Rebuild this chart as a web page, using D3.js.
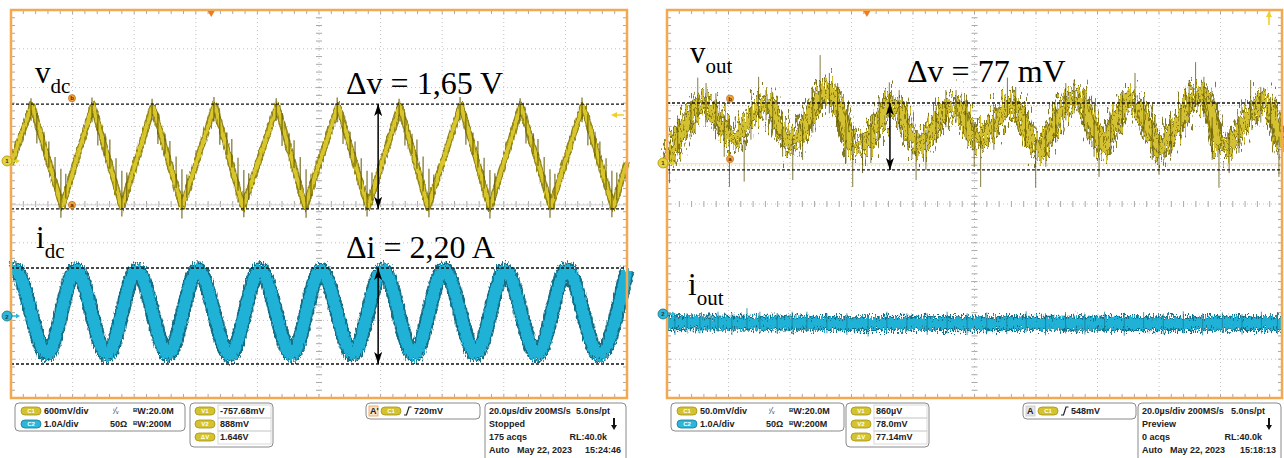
<!DOCTYPE html>
<html>
<head>
<meta charset="utf-8">
<script src="https://cdn.jsdelivr.net/npm/d3@7/dist/d3.min.js"></script>
<style>
html,body{margin:0;padding:0;background:#fff;}
svg{display:block;}
.grid{stroke:#c4c4c4;stroke-width:1;stroke-dasharray:1,3;fill:none;}
.tick{stroke:#a8a8a8;stroke-width:1;}
.info{font-family:"Liberation Sans Narrow","Arial Narrow","Liberation Sans",sans-serif;font-weight:bold;font-size:9px;fill:#222;}
.pilltxt{font-family:"Liberation Sans","Arial",sans-serif;font-weight:bold;font-size:6px;}
.lbl{font-family:"Liberation Serif","Times New Roman",serif;fill:#000;}
</style>
</head>
<body>
<svg id="chart" width="1284" height="458"></svg>
<script>
// ================= DATA =================
const timeDomain = [0, 200];            // µs  (20.0 µs/div, 10 div)
const voltsPerDiv = [0.6, 50];          // C1: 600 mV/div (left, in V) | 50.0 mV/div (right, in mV)
const ampsPerDiv  = [1.0, 1.0];         // C2: 1.0 A/div
const ch1Offset = [1.11, 1.057];        // ground marker of C1, divisions above centre
const ch2Offset = [-2.887, -2.835];     // ground marker of C2, divisions above centre
const triggerTime = [65, 65];           // µs

// ---- left panel: v_dc (V) ----
const vdcT = [0, 6.8, 16.6, 26.6, 36.0, 46.1, 55.5, 66.2, 75.3, 86.4, 95.5, 106.2, 115.9, 126.3, 135.4, 146.1, 155.5, 165.6, 175.3, 185.7, 195.5, 200];
const vdcV = [-0.05, 0.86, -0.71, 0.86, -0.72, 0.85, -0.71, 0.86, -0.72, 0.85, -0.71, 0.86, -0.72, 0.85, -0.71, 0.86, -0.72, 0.85, -0.71, 0.86, -0.72, -0.02];
// switching spikes on v_dc: [t µs, top V, bottom V]
const vdcSpikes = [
 [6.5,0.97,0.62],[8.4,0.74,0.27],[10.7,0.45,0.10],[12.3,0.30,-0.10],[14.3,0.06,-0.44],[16.2,-0.12,-0.88],[17.8,-0.20,-0.58],
 [26.3,0.98,0.60],[28.2,0.72,0.24],[30.5,0.43,0.08],[32.1,0.33,-0.12],[34.1,0.04,-0.47],[36.0,-0.15,-0.86],[37.6,-0.18,-0.62],
 [45.8,0.96,0.63],[47.7,0.75,0.26],[50.0,0.42,0.11],[51.6,0.31,-0.08],[53.6,0.07,-0.42],[55.5,-0.13,-0.89],[57.1,-0.21,-0.57],
 [65.9,0.99,0.61],[67.8,0.73,0.25],[70.1,0.44,0.09],[71.7,0.34,-0.10],[73.7,0.05,-0.46],[75.6,-0.14,-0.87],[77.2,-0.19,-0.60],
 [86.1,0.97,0.62],[88.0,0.74,0.23],[90.3,0.43,0.10],[91.9,0.32,-0.11],[93.9,0.06,-0.45],[95.8,-0.13,-0.88],[97.4,-0.20,-0.59],
 [105.9,0.98,0.60],[107.8,0.72,0.26],[110.1,0.45,0.08],[111.7,0.30,-0.09],[113.7,0.04,-0.44],[115.6,-0.15,-0.86],[117.2,-0.18,-0.61],
 [126.0,0.96,0.61],[127.9,0.75,0.24],[130.2,0.42,0.11],[131.8,0.33,-0.12],[133.8,0.07,-0.47],[135.7,-0.12,-0.87],[137.3,-0.21,-0.58],
 [145.8,0.99,0.63],[147.7,0.73,0.25],[150.0,0.44,0.09],[151.6,0.31,-0.10],[153.6,0.05,-0.43],[155.5,-0.14,-0.89],[157.1,-0.19,-0.60],
 [165.3,0.97,0.62],[167.2,0.74,0.27],[169.5,0.43,0.10],[171.1,0.34,-0.08],[173.1,0.06,-0.46],[175.0,-0.13,-0.88],[176.6,-0.20,-0.59],
 [185.4,0.98,0.60],[187.3,0.72,0.24],[189.6,0.45,0.08],[191.2,0.30,-0.11],[193.2,0.04,-0.45],[195.1,-0.15,-0.87],[196.7,-0.18,-0.61]
];
// ---- left panel: i_dc (A) ----
const idcT = [0, 1.2, 11.7, 21.1, 31.2, 40.9, 51.0, 60.7, 71.1, 80.8, 91.2, 100.6, 111.0, 120.8, 130.8, 140.6, 151.0, 160.4, 170.8, 180.5, 190.9, 200];
const idcI = [1.17, 1.19, -0.98, 1.19, -1.00, 1.18, -0.98, 1.19, -1.01, 1.19, -0.99, 1.18, -0.98, 1.19, -1.00, 1.19, -0.98, 1.18, -1.00, 1.19, -0.99, 1.18];
const vdcCursors = [0.88, -0.74];       // V
const idcCursors = [1.237, -1.237];     // A
const vdcScopeCursor = [-0.68];         // faint scope cursor line

// ---- right panel: v_out (mV) ----
const voutT = [0,1.8,6.2,10.6,13.8,17.0,20.3,22.4,25.7,30.0,33.3,36.5,39.8,43.0,46.3,49.5,52.8,56.0,59.3,62.5,65.8,69.0,72.3,75.5,78.8,82.0,85.3,88.6,91.8,95.1,98.3,100.5,104.2,108.5,111.8,115.0,118.3,121.5,124.8,128.0,132.4,135.6,138.9,142.1,145.4,149.7,154.0,157.3,160.5,163.8,167.1,170.3,173.6,176.8,179.0,182.2,185.5,188.7,193.1,196.3,199.6,200];
const voutV = [4,17,51,77,72,55,34,30,51,72,77,46,26,34,59,85,94,72,26,21,30,51,77,68,39,21,34,59,72,72,42,30,39,64,77,64,30,17,39,68,85,77,39,21,52,81,68,39,17,39,55,81,90,72,26,21,39,59,77,72,26,24];
// noise spikes on v_out: [t µs, top mV, bottom mV]
const voutSpikes = [
 [0.8,17,-26],[3.5,58,17],[7.8,77,34],[10.0,110,59],[12.7,103,52],[15.9,90,46],[18.6,52,8],[20.3,30,-31],[25.1,30,-24],[27.3,72,30],
 [29.8,111,59],[32.2,94,55],[34.4,90,46],[37.6,52,8],[40.9,34,-22],[44.1,52,4],[47.4,85,39],[49.8,139,72],[52.8,116,64],[55.5,103,52],
 [58.2,52,0],[60.4,34,-31],[63.6,39,-13],[66.3,52,0],[69.0,85,30],[72.3,104,59],[75.5,94,46],[78.3,64,17],[81.0,34,-22],[84.2,43,-9],
 [87.5,72,26],[90.7,94,46],[94.0,94,52],[97.2,81,30],[99.9,52,-5],[102.0,34,-31],[106.3,59,17],[110.7,110,59],[113.4,98,55],[116.6,72,21],
 [119.9,30,-32],[123.2,43,-5],[126.4,72,26],[129.7,103,55],[132.4,107,64],[135.6,94,46],[138.9,55,8],[140.5,34,-18],[144.3,64,17],[148.1,94,46],
 [152.2,116,64],[155.1,85,39],[157.8,52,4],[160.0,34,-15],[163.8,55,8],[167.1,77,30],[169.8,107,59],[171.9,130,72],[174.6,111,59],[177.3,59,4],
 [179.5,21,-32],[182.8,34,-13],[186.0,59,13],[189.8,107,55],[193.1,98,52],[196.3,85,39],[199.0,34,-18]
];
// ---- right panel: i_out (A) ----
const ioutT = [0, 20, 40, 60, 80, 100, 120, 140, 160, 180, 200];
const ioutI = [-0.22, -0.24, -0.23, -0.25, -0.24, -0.25, -0.24, -0.24, -0.25, -0.24, -0.25];
const ioutSpikes = [
 [2.6,-0.03,-0.54],[6.5,0.02,-0.47],[10.7,0.02,-0.50],[14.0,0.00,-0.45],[16.6,0.06,-0.46],[21.1,0.02,-0.54],[26.0,0.15,-0.41],[30.2,0.06,-0.46],
 [35.8,0.02,-0.50],[40.7,0.06,-0.50],[45.5,0.06,-0.46],[52.0,0.02,-0.50],[58.5,0.02,-0.54],[65.4,-0.03,-0.58],[71.5,0.06,-0.50],[78.0,0.02,-0.46],
 [84.6,0.02,-0.54],[91.1,0.06,-0.50],[97.6,0.02,-0.54],[104.0,0.04,-0.49],[110.5,0.01,-0.52],[116.8,0.07,-0.47],[123.1,0.02,-0.55],[129.6,0.05,-0.50],
 [135.9,0.00,-0.53],[142.3,0.06,-0.48],[148.7,0.03,-0.56],[155.0,0.05,-0.49],[161.4,0.01,-0.52],[167.9,0.07,-0.50],[174.2,0.02,-0.55],[180.6,0.04,-0.48],
 [187.0,0.00,-0.53],[193.3,0.06,-0.50],[198.5,0.02,-0.52]
];
const voutCursors = [77.3, -9.0];       // mV (annotation lines)
const voutScopeCursors = [74, -1];      // mV (faint scope cursors)

// ---- annotation texts ----
const labelMain = ["v", "i", "v", "i"];
const labelSub  = ["dc", "dc", "out", "out"];
const deltaTexts = ["\u0394v = 1,65 V", "\u0394i = 2,20 A", "\u0394v = 77 mV"];
const arrowTime = [119.2, 72.5];        // µs

// ---- readout texts ----
const chScaleText = [["600mV/div", "1.0A/div"], ["50.0mV/div", "1.0A/div"]];
const bwText = ["20.0M", "200M"];
const cursorNames = ["V1", "V2", "\u0394V"];
const cursorVals = [["-757.68mV", "888mV", "1.646V"], ["860\u00B5V", "78.0mV", "77.14mV"]];
const trigSrc = ["A'", "A"];
const trigLevel = ["720mV", "548mV"];
const timebase = ["20.0\u00B5s/div 200MS/s", "5.0ns/pt"];
const acqState = ["Stopped", "Preview"];
const acqCount = ["175 acqs", "0 acqs"];
const recLen = "RL:40.0k";
const dateText = "Auto   May 22, 2023";
const clockText = ["15:24:46", "15:18:13"];

// ================= DRAW =================
const svg = d3.select("#chart");
const defs = svg.append("defs");
defs.append("marker").attr("id", "ah").attr("viewBox", "0 0 12 8").attr("refX", 12).attr("refY", 4)
  .attr("markerWidth", 12).attr("markerHeight", 8).attr("markerUnits", "userSpaceOnUse")
  .attr("orient", "auto-start-reverse")
  .append("path").attr("d", "M0,0 L12,4 L0,8 L3,4 Z").attr("fill", "#000");

// trace "phosphor noise" texture: vertical-only displacement (styling filter)
function noiseFilter(id, fx, fy, scale, seed) {
  const f = defs.append("filter").attr("id", id).attr("filterUnits", "userSpaceOnUse")
    .attr("x", 0).attr("y", 0).attr("width", 1284).attr("height", 400).attr("color-interpolation-filters", "sRGB");
  f.append("feTurbulence").attr("type", "fractalNoise").attr("baseFrequency", `${fx} ${fy}`).attr("numOctaves", 2).attr("seed", seed).attr("result", "t");
  f.append("feColorMatrix").attr("in", "t").attr("type", "matrix")
    .attr("values", "0 0 0 0 0.5  0 1 0 0 0  0 0 0 0 0  0 0 0 0 1").attr("result", "m");
  f.append("feDisplacementMap").attr("in", "SourceGraphic").attr("in2", "m").attr("scale", scale)
    .attr("xChannelSelector", "R").attr("yChannelSelector", "G");
}
noiseFilter("nzVdc", 0.9, 0.15, 10, 3);
noiseFilter("nzIdc", 0.9, 0.25, 12, 5);
noiseFilter("nzVout", 0.6, 0.08, 60, 7);
noiseFilter("nzVout2", 0.9, 0.12, 40, 11);
noiseFilter("nzIout", 0.9, 0.25, 14, 9);

const panels = [{x0: 11, x1: 627, y0: 10, y1: 398}, {x0: 667, x1: 1282, y0: 10, y1: 398}];
const xs = panels.map(p => d3.scaleLinear().domain(timeDomain).range([p.x0, p.x1]));
const yScale = (p, off, per) => d3.scaleLinear().domain([(-5 - off) * per, (5 - off) * per]).range([p.y1, p.y0]);
const y1s = panels.map((p, i) => yScale(p, ch1Offset[i], voltsPerDiv[i]));
const y2s = panels.map((p, i) => yScale(p, ch2Offset[i], ampsPerDiv[i]));

function drawGrid(p) {
  const g = svg.append("g");
  const dx = (p.x1 - p.x0) / 10, dy = (p.y1 - p.y0) / 10;
  const cx = (p.x0 + p.x1) / 2, cy = (p.y0 + p.y1) / 2;
  d3.range(1, 10).forEach(i => {
    g.append("line").attr("class", "grid").attr("x1", p.x0 + i * dx).attr("x2", p.x0 + i * dx).attr("y1", p.y0).attr("y2", p.y1);
    g.append("line").attr("class", "grid").attr("y1", p.y0 + i * dy).attr("y2", p.y0 + i * dy).attr("x1", p.x0).attr("x2", p.x1);
  });
  let d = "";
  d3.range(1, 50).forEach(j => {
    const x = p.x0 + j * dx / 5, y = p.y0 + j * dy / 5;
    d += `M${x},${p.y0}v4M${x},${p.y1}v-4M${x},${cy - 3}v6`;
    d += `M${p.x0},${y}h4M${p.x1},${y}h-4M${cx - 3},${y}h6`;
  });
  g.append("path").attr("class", "tick").attr("d", d).attr("fill", "none");
}
panels.forEach(drawGrid);

function spikePath(data, x, y) {
  return data.map(s => `M${x(s[0])},${y(s[1])}L${x(s[0])},${y(s[2])}`).join("");
}
function hline(g, p, y, stroke, w, dash) {
  g.append("line").attr("x1", p.x0).attr("x2", p.x1).attr("y1", y).attr("y2", y)
    .attr("stroke", stroke).attr("stroke-width", w).attr("stroke-dasharray", dash || null);
}
function strokePath(g, data, gen, color, width, opacity) {
  g.append("path").datum(data).attr("d", gen).attr("fill", "none").attr("stroke", color)
    .attr("stroke-width", width).attr("stroke-linejoin", "round").attr("opacity", opacity == null ? 1 : opacity);
}

// ---------- left traces ----------
{
  const p = panels[0], x = xs[0], yv = y1s[0], yi = y2s[0];
  const g = svg.append("g");
  hline(g, p, yv(vdcScopeCursor[0]), "#cfcfcf", 1);
  const lv = d3.line().x(d => x(d[0])).y(d => yv(d[1]));
  const vd = d3.zip(vdcT, vdcV);
  const gv = g.append("g").attr("filter", "url(#nzVdc)");
  strokePath(gv, vd, lv, "#857800", 6.5, 0.9);
  strokePath(gv, vd, lv, "#d8c62a", 3.8);
  g.append("path").attr("d", spikePath(vdcSpikes, x, yv)).attr("stroke", "#5e5400").attr("stroke-width", 1.1).attr("fill", "none").attr("opacity", 0.9);

  const li = d3.line().curve(d3.curveMonotoneX).x(d => x(d[0])).y(d => yi(d[1]));
  const id = d3.zip(idcT, idcI);
  const gi = g.append("g").attr("filter", "url(#nzIdc)");
  strokePath(gi, id, li, "#136f88", 15);
  strokePath(gi, id, li, "#1fb2d6", 11.5);

  vdcCursors.forEach(v => hline(g, p, yv(v), "#111", 1.3, "3,2"));
  idcCursors.forEach(v => hline(g, p, yi(v), "#111", 1.3, "3,2"));
  g.append("line").attr("x1", x(arrowTime[0])).attr("x2", x(arrowTime[0])).attr("y1", yv(vdcCursors[0])).attr("y2", yv(vdcCursors[1]))
    .attr("stroke", "#000").attr("stroke-width", 1.5).attr("marker-start", "url(#ah)").attr("marker-end", "url(#ah)");
  g.append("line").attr("x1", x(arrowTime[0])).attr("x2", x(arrowTime[0])).attr("y1", yi(idcCursors[0])).attr("y2", yi(idcCursors[1]))
    .attr("stroke", "#000").attr("stroke-width", 1.5).attr("marker-start", "url(#ah)").attr("marker-end", "url(#ah)");
}

// ---------- right traces ----------
{
  const p = panels[1], x = xs[1], yv = y1s[1], yi = y2s[1];
  const g = svg.append("g");
  hline(g, p, yv(voutScopeCursors[0]), "#e8d44a", 1, "1.5,1.5");
  hline(g, p, yv(voutScopeCursors[1]), "#f0e08a", 1);
  const lv = d3.line().x(d => x(d[0])).y(d => yv(d[1]));
  const vd = d3.zip(voutT, voutV);
  const gv = g.append("g").attr("filter", "url(#nzVout)");
  strokePath(gv, vd, lv, "#6b6000", 15, 0.85);
  strokePath(gv, vd, lv, "#d2be2a", 10);
  const gv2 = g.append("g").attr("filter", "url(#nzVout2)");
  strokePath(gv2, vd, lv, "#7a6d05", 11, 0.75);
  strokePath(gv2, vd, lv, "#dcc936", 7, 0.9);
  g.append("path").attr("d", spikePath(voutSpikes, x, yv)).attr("stroke", "#5a5000").attr("stroke-width", 1).attr("fill", "none").attr("opacity", 0.75);

  const li = d3.line().x(d => x(d[0])).y(d => yi(d[1]));
  const id = d3.zip(ioutT, ioutI);
  const gi = g.append("g").attr("filter", "url(#nzIout)");
  strokePath(gi, id, li, "#136f88", 15);
  strokePath(gi, id, li, "#1fb2d6", 11);
  g.append("path").attr("d", spikePath(ioutSpikes, x, yi)).attr("stroke", "#167e98").attr("stroke-width", 1).attr("fill", "none").attr("opacity", 0.8);

  voutCursors.forEach(v => hline(g, p, yv(v), "#111", 1.3, "3,2"));
  g.append("line").attr("x1", x(arrowTime[1])).attr("x2", x(arrowTime[1])).attr("y1", yv(voutCursors[0])).attr("y2", yv(voutCursors[1]))
    .attr("stroke", "#000").attr("stroke-width", 1.5).attr("marker-start", "url(#ah)").attr("marker-end", "url(#ah)");
}

// ---------- frames, markers ----------
panels.forEach((p, i) => {
  const g = svg.append("g");
  g.append("rect").attr("x", p.x0).attr("y", p.y0).attr("width", p.x1 - p.x0).attr("height", p.y1 - p.y0)
    .attr("fill", "none").attr("stroke", "#f3a94f").attr("stroke-width", 2.5);
  const tx = xs[i](triggerTime[i]);
  g.append("path").attr("d", `M${tx - 3.5},${p.y0 + 1}L${tx + 3.5},${p.y0 + 1}L${tx},${p.y0 + 7}Z`).attr("fill", "#f27a1e");
  [[y1s[i](0), "#e6d43a", "#a8950a", "1"], [y2s[i](0), "#2bb8d8", "#137088", "2"]].forEach(m => {
    g.append("line").attr("x1", p.x0 - 2).attr("x2", p.x0 + 7).attr("y1", m[0]).attr("y2", m[0]).attr("stroke", m[1]).attr("stroke-width", 1.5);
    g.append("path").attr("d", `M${p.x0 + 9},${m[0]}l-4,-2.5v5z`).attr("fill", m[1]);
    g.append("circle").attr("cx", p.x0 - 4).attr("cy", m[0]).attr("r", 5).attr("fill", m[1]).attr("stroke", m[2]).attr("stroke-width", 0.8);
    g.append("text").attr("x", p.x0 - 4).attr("y", m[0] + 2.5).attr("text-anchor", "middle").attr("class", "pilltxt").attr("font-size", 7).attr("fill", "#333").text(m[3]);
  });
});
[[0, 19.8, 0.97, "b"], [0, 19.8, -0.68, "a"], [1, 20.5, 83, "b"], [1, 20.5, 5, "a"]].forEach(c => {
  const x = xs[c[0]](c[1]), y = y1s[c[0]](c[2]);
  svg.append("circle").attr("cx", x).attr("cy", y).attr("r", 3.6).attr("fill", "#f0a33a").attr("stroke", "#b5651a").attr("stroke-width", 0.6);
  svg.append("text").attr("x", x).attr("y", y + 2).attr("text-anchor", "middle").attr("class", "pilltxt").attr("font-size", 5).attr("fill", "#4a2a00").text(c[3]);
});
svg.append("path").attr("d", "M611,115l6,-3v2.2h7v1.6h-7v2.2z").attr("fill", "#f0cf2a");
svg.append("path").attr("d", "M1269,11l-3,6h2.2v8h1.6v-8h2.2z").attr("fill", "#f0cf2a");

// ---------- labels ----------
const labelPos = [[35, 83], [36, 248], [690, 63], [688, 295]];
labelPos.forEach((lp, k) => {
  const t = svg.append("text").attr("class", "lbl").attr("x", lp[0]).attr("y", lp[1]).attr("font-size", 31);
  t.append("tspan").text(labelMain[k]);
  t.append("tspan").attr("font-size", 21).attr("dy", 10).text(labelSub[k]);
});
[[346, 94], [346, 258], [907, 82]].forEach((dp, k) => {
  svg.append("text").attr("class", "lbl").attr("x", dp[0]).attr("y", dp[1]).attr("font-size", 32).text(deltaTexts[k]);
});

// ---------- readout bar ----------
function pill(x, yc, label, fill, stroke) {
  svg.append("rect").attr("x", x).attr("y", yc - 4).attr("width", 20).attr("height", 8).attr("rx", 4)
    .attr("fill", fill).attr("stroke", stroke).attr("stroke-width", 0.8);
  svg.append("text").attr("class", "pilltxt").attr("x", x + 10).attr("y", yc + 2.2).attr("text-anchor", "middle").attr("fill", "#fff").text(label);
}
function info(x, yc, str, anchor) {
  return svg.append("text").attr("class", "info").attr("x", x).attr("y", yc + 3.2).attr("text-anchor", anchor || "start").text(str);
}
function box(x, y, w, h) {
  svg.append("rect").attr("x", x).attr("y", y).attr("width", w).attr("height", h).attr("rx", 4)
    .attr("fill", "none").attr("stroke", "#8a8a8a").attr("stroke-width", 1);
}
const YEL = "#d4c22e", YELS = "#a49314", CYA = "#2db6d8", CYAS = "#147a92";
const barLayout = [
  {b1: 15, b1w: 170, b2: 190, b3: 366, b3w: 114, b4: 485, b4r: 626},
  {b1: 671, b1w: 173, b2: 846, b3: 1023, b3w: 113, b4: 1138, b4r: 1281}
];
barLayout.forEach((L, i) => {
  const r1 = 411, r2 = 424, r3 = 437, r4 = 450;
  box(L.b1, 403, L.b1w, 28);
  pill(L.b1 + 6, r1, "C1", YEL, YELS);
  pill(L.b1 + 6, r2, "C2", CYA, CYAS);
  info(L.b1 + 29, r1, chScaleText[i][0]);
  info(L.b1 + 29, r2, chScaleText[i][1]);
  svg.append("text").attr("x", L.b1 + 98).attr("y", r1 + 3).attr("font-family", "DejaVu Sans").attr("font-size", 8).attr("fill", "#333").text("\u2071\u2044\u1D65");
  info(L.b1 + 95, r2, "50\u03A9");
  [r1, r2].forEach((r, k) => {
    const t = info(L.b1 + 118, r, "");
    t.append("tspan").attr("font-size", 6).attr("dy", -2.5).text("B");
    t.append("tspan").attr("dy", 2.5).text("W:" + bwText[k]);
  });
  box(L.b2, 403, 83, 44);
  [r1, r2, r3].forEach((r, k) => {
    pill(L.b2 + 5, r, cursorNames[k], YEL, YELS);
    svg.append("rect").attr("x", L.b2 + 28).attr("y", r - 6).attr("width", 53).attr("height", 13)
      .attr("fill", "none").attr("stroke", "#cfcfcf").attr("stroke-width", 0.8);
    info(L.b2 + 30, r, cursorVals[i][k]);
  });
  box(L.b3, 403, L.b3w, 16);
  svg.append("rect").attr("x", L.b3 + 3).attr("y", r1 - 5).attr("width", 9).attr("height", 10)
    .attr("fill", i === 0 ? "#fbe3c8" : "#e4e4e4").attr("stroke", i === 0 ? "#e8a055" : "#c8c8c8").attr("stroke-width", 0.8);
  info(L.b3 + 4, r1, trigSrc[i]).attr("font-size", 8);
  pill(L.b3 + 15, r1, "C1", YEL, YELS);
  svg.append("path").attr("d", `M${L.b3 + 38},${r1 + 4}h2.5l2.5,-8h2.5`).attr("fill", "none").attr("stroke", "#222").attr("stroke-width", 1.2);
  info(L.b3 + 48, r1, trigLevel[i]);
  svg.append("rect").attr("x", L.b4).attr("y", 403).attr("width", L.b4r - L.b4).attr("height", 70).attr("rx", 4)
    .attr("fill", "none").attr("stroke", "#8a8a8a").attr("stroke-width", 1);
  info(L.b4 + 4, r1, timebase[0]);
  info(L.b4r - 16, r1, timebase[1], "end");
  info(L.b4 + 4, r2, acqState[i]);
  svg.append("path").attr("d", `M${L.b4r - 12},${r2 - 6}v8`).attr("stroke", "#111").attr("stroke-width", 2);
  svg.append("path").attr("d", `M${L.b4r - 15},${r2 + 1}h6l-3,5z`).attr("fill", "#111");
  info(L.b4 + 4, r3, acqCount[i]);
  info(L.b4r - 19, r3, recLen, "end");
  info(L.b4 + 4, r4, dateText).style("white-space", "pre");
  info(L.b4r - 5, r4, clockText[i], "end");
});
</script>
</body>
</html>
